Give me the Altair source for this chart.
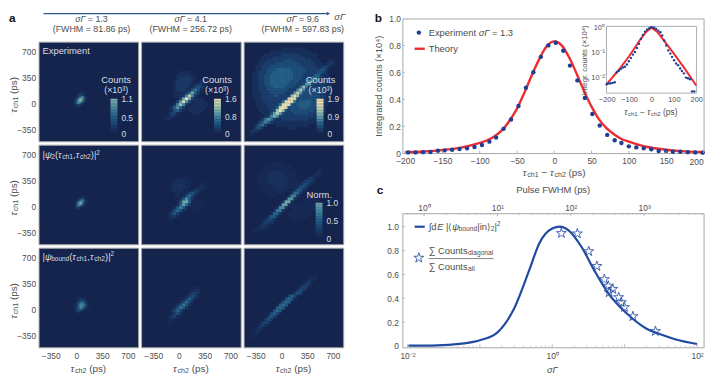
import altair as alt
import pandas as pd

NAVY = "#15244d"
RAMP = ["#15244d", "#1c4473", "#2f6f8f", "#6da3a8", "#b5cdb5", "#e8dcb4", "#f8dcaa"]
FRAME = "#a6a6a6"
TXT = "#4d4d4d"
LIGHT = "#d9dde3"
DOT = "#1f3f95"
RED = "#ee2c30"
LINE = "#1f4aa0"
STAR = "M0,-1L0.224,-0.309L0.951,-0.309L0.363,0.118L0.588,0.809L0,0.382L-0.588,0.809L-0.363,0.118L-0.951,-0.309L-0.224,-0.309Z"

# ---- heat-map cells: (row, first column, hex levels)
P1 = [(25,21,"111"),(26,20,"1221"),(27,19,"13541"),(28,19,"159c61"),(29,18,"14bfc5"),(30,18,"26dfa3"),(31,18,"27b73"),(32,18,"1342"),(33,19,"11")]
P4 = [(26,21,"121"),(27,20,"1352"),(28,19,"148c51"),(29,18,"13bfb4"),(30,18,"15dfa2"),(31,18,"16a62"),(32,18,"1231")]
P7 = [(25,20,"1111"),(26,19,"12332"),(27,19,"136752"),(28,18,"136ab731"),(29,18,"138cca41"),(30,18,"148cb731"),(31,18,"147a631"),(32,18,"13531"),(33,19,"111")]

P2 = [(10,13,"1111"),(11,12,"111111"),(12,12,"1222211"),(13,11,"1222221"),(14,11,"12222211"),(15,11,"1222211"),(16,11,"122211"),(17,11,"11111"),(18,11,"111"),
      (19,18,"111"),(20,17,"11111"),(21,17,"111111"),(22,16,"111111"),(23,16,"11111"),(24,17,"111"),
      (12,21,"11"),(13,20,"121"),(14,18,"1221"),(15,17,"13431"),(16,16,"14641"),(17,15,"25952"),(18,14,"27c72"),(19,13,"39f93"),(20,12,"38e83"),(21,11,"27b72"),(22,10,"25852"),(23,10,"1452"),(24,9,"1331"),(25,9,"121"),(26,8,"11")]
P5 = [(11,11,"111111"),(12,10,"11222111"),(13,10,"1222211"),(14,10,"1222211"),(15,10,"122211"),(16,11,"1111"),(17,11,"11"),
      (19,18,"111"),(20,18,"1111"),(21,17,"1111"),(22,17,"111"),
      (13,20,"11"),(14,19,"121"),(15,17,"1331"),(16,15,"14641"),(17,14,"15951"),(18,13,"27c72"),(19,12,"16ef81"),(20,12,"18e93"),(21,11,"27b72"),(22,10,"16962"),(23,9,"14741"),(24,9,"1331"),(25,9,"11")]
P8 = [(13,18,"11"),(14,17,"122"),(15,16,"1342"),(16,15,"13641"),(17,14,"14851"),(18,13,"25961"),(19,12,"26a72"),(20,11,"26a72"),(21,10,"25851"),(22,10,"1462"),(23,9,"1341"),(24,9,"121"),(25,9,"1")]

HALO3 = ["0000000000000000000000000000000000","0000000000000000000000000000000000",
"0000000000000111111110000000000000","0000000001111111111111100000000000",
"0000000111111222222111111000000000","0000001111222222222221111000000000",
"0000011122222233322222211100000000","0000011222233333333222221110000000",
"0000112223333333333322222111000000","0000112233344444333332222211000000",
"0001122233444444433332222211100000","0001122334444444433322222211100000",
"0001122334444444433322222221100000","0001122334444444333222222222110000",
"0001122334444443332222222222110000","0001122233444433322222222222110000",
"0001122233333332222223333322110000","0001112223333322222233333332110000",
"0001112222332222223333333322110000","0000112222222222233333333322100000",
"0000111222222222333444433322100000","0000111122222222334444433221100000",
"0000011122222222333444333221000000","0000011112222222333333332211000000",
"0000001111222222233333222110000000","0000000111122222222222221100000000",
"0000000011111222222222111000000000","0000000001111111111111110000000000",
"0000000000011111111111000000000000","0000000000000001110000000000000000"]
STREAK3 = [(6,29,"11"),(7,28,"121"),(8,26,"1221"),(9,25,"1331"),(10,24,"2332"),(11,23,"2442"),(12,22,"3553"),(13,21,"3663"),(14,20,"3773"),(15,18,"25952"),(16,17,"26a62"),(17,16,"27b72"),(18,15,"29e92"),(19,14,"3bfb3"),(20,13,"5cfc5"),(21,12,"5cfc4"),(22,11,"4bfb3"),(23,10,"39d93"),(24,9,"37a73"),(25,8,"26862"),(26,6,"25752"),(27,5,"24642"),(28,4,"2452"),(29,3,"1331"),(30,2,"121"),(31,2,"1")]
P3 = [(r, 0, s) for r, s in enumerate(HALO3)] + STREAK3
P6 = [(6,9,"11111"),(7,7,"111111111"),(8,6,"11111111111"),(9,5,"1111222211111"),(10,5,"1112222221111"),(11,5,"1112222222111"),(12,5,"11122222221111"),(13,5,"111122222211111"),(14,6,"1111222211111"),(15,6,"111112211"),(16,7,"1111111"),(17,8,"111"),
      (18,20,"11111"),(19,20,"111111"),(20,17,"111111111"),(21,16,"111111111"),(22,16,"11111111"),(23,15,"11111111"),(24,15,"1111111"),(25,16,"1111"),
      (8,25,"11"),(9,24,"121"),(10,23,"121"),(11,21,"1331"),(12,20,"2442"),(13,19,"2552"),(14,18,"2662"),(15,17,"2772"),(16,16,"2992"),(17,15,"2bb2"),(18,14,"2dd2"),(19,13,"2ff2"),(20,12,"2ee2"),(21,11,"2cc2"),(22,10,"2aa2"),(23,9,"2882"),(24,8,"2772"),(25,7,"2552"),(26,6,"2442"),(27,5,"1331"),(28,4,"1221"),(29,3,"111")]
P9 = [(9,24,"1"),(10,22,"121"),(11,21,"131"),(12,20,"242"),(13,19,"353"),(14,18,"363"),(15,17,"474"),(16,15,"585"),(17,14,"696"),(18,13,"697"),(19,12,"797"),(20,11,"797"),(21,10,"696"),(22,9,"585"),(23,8,"474"),(24,7,"363"),(25,6,"353"),(26,5,"242"),(27,4,"131"),(28,3,"121"),(29,3,"11"),(30,2,"1")]

# ---- panel b
B_EXP_X = [-196,-186,-176,-166,-156,-147,-137,-127,-117,-107,-97,-87,-78,-68,-58,-48,-38,-28,-18,-8,2,12,21,31,41,51,61,71,81,90,100,110,120,130,140,150,159,169,179,189,199]
B_EXP_Y = [0.005,0.005,0.007,0.008,0.017,0.02,0.025,0.03,0.035,0.045,0.06,0.085,0.115,0.18,0.25,0.35,0.485,0.60,0.715,0.80,0.82,0.76,0.65,0.54,0.41,0.29,0.205,0.135,0.095,0.075,0.05,0.042,0.035,0.028,0.015,0.015,0.01,0.01,0.007,0.005,0.003]
B_TH_X = [-200,-175,-150,-125,-100,-90,-80,-70,-60,-50,-40,-30,-20,-10,0,10,20,30,40,50,60,70,80,90,100,125,150,175,200]
B_TH_Y = [0.007,0.012,0.022,0.04,0.075,0.095,0.125,0.17,0.24,0.33,0.45,0.58,0.70,0.795,0.83,0.80,0.71,0.59,0.46,0.345,0.25,0.185,0.14,0.105,0.085,0.045,0.025,0.013,0.008]
IN_EXP_X = [-200,-191,-182,-173,-164,-155,-146,-137,-128,-119,-110,-101,-92,-83,-74,-65,-56,-47,-38,-29,-20,-11,-3,3,12,21,31,40,48,57,66,75,84,92,101,110,119,128,136,145,154,163,172,181,191]
IN_EXP_Y = [.00566,.0060,.0062,.0064,.0068,.0167,.0193,.0224,.0260,.0276,.0342,.0459,.0621,.0837,.106,.152,.224,.351,.503,.678,.811,.914,1.0,1.0,.97,.861,.742,.638,.474,.302,.193,.123,.0916,.0679,.0503,.0373,.0321,.0238,.0188,.0152,.0103,.0097,.0089,.00294,.00294]
IN_TH_X = [-200,-150,-100,-50,-25,0,25,50,100,150,200]
IN_TH_Y = [.00566,.0188,.072,.33,.64,.98,.68,.35,.092,.0224,.005]

# ---- panel c
C_X = [.0103,.0217,.0612,.1026,.172,.289,.484,.661,1,1.27,1.68,2.54,3.84,5.81,10.8,20.1,30.4,51,100]
C_Y = [.003,.004,.022,.05,.11,.30,.64,.86,.985,1.0,.97,.83,.63,.45,.27,.145,.10,.055,.017]
STAR_X = [1.336,2.22,3.19,4.13,5.24,5.93,6.85,6.12,8.26,8.97,9.95,13.0,26.6]
STAR_Y = [.945,.942,.793,.669,.559,.504,.477,.449,.408,.366,.325,.248,.124]
BOT_MAJOR = [.01,.1,1,10,100]
BOT_MINOR = [a*d for d in (.01,.1,1,10) for a in range(2,10)]
TOP_MAJOR = [1,10,100,1000]
TOP_MINOR = [.6,.7,.8,.9] + [a*d for d in (1,10,100) for a in range(2,10)] + [2000,3000,4000,5000,6000]
HEAT_TICKS = [-350,0,350,700]
DOM = [-515, 840]

CHAR_W = {"f": .278, "i": .222, "j": .222, "l": .222, "r": .333, "t": .278, "m": .833, "w": .722, "c": .5, "k": .5, "s": .5, "v": .5, "x": .5, "y": .5, "z": .5,
          "C": .722, "E": .667, "F": .611, "H": .722, "I": .278, "M": .833, "N": .722, "P": .667, "T": .611, "W": .944,
          " ": .278, "(": .333, ")": .333, "|": .26, ",": .278, ".": .278, "=": .584, "−": .584, "∑": .75, "∫": .35, "⟨": .4, "⟩": .4, "τ": .45, "σ": .58, "Γ": .56, "ψ": .68, "×": .584}


def width_of(s, size):
    return sum(CHAR_W.get(ch, .556) for ch in s) * size


def text(s, x, y, size=9, color=TXT, align="left", angle=0, dx=0, dy=0, style=None, weight=None, baseline="middle"):
    kw = dict(align=align, baseline=baseline, fontSize=size, color=color)
    if angle:
        kw["angle"] = angle
    if dx:
        kw["dx"] = dx
    if dy:
        kw["dy"] = dy
    if style:
        kw["fontStyle"] = style
    if weight:
        kw["fontWeight"] = weight
    return alt.Chart(alt.Data(values=[{"t": s}])).mark_text(**kw).encode(text="t:N", x=alt.value(x), y=alt.value(y))


def rich(segs, x, y, color=TXT, center=False, angle=0):
    total = sum(width_of(s[0], s[1]) for s in segs)
    off = -total / 2 if center else 0
    out = []
    for seg in segs:
        s, size = seg[0], seg[1]
        dy = seg[2] if len(seg) > 2 else 0
        style = seg[3] if len(seg) > 3 else None
        lead = len(s) - len(s.lstrip(" "))
        out.append(text(s.strip(" "), x, y, size=size, color=color, angle=angle, dx=off + lead * .278 * size, dy=dy, style=style))
        off += width_of(s, size)
    return out


def tau(n, size=10):
    return [("τ", size, 0, "italic"), ("ch" + n, size * .72, 2)]


MINUS = "replace(format(datum.value,'d'),'-','–')"
ONE = "datum.value==0?'0':format(datum.value,'.1f')"
AX = dict(domain=False, ticks=False, grid=False, labelColor=TXT, labelFontSize=8.5, labelOverlap=False, labelFlush=False)


def colorbar(xleft, ytop, length, vmax, ticks, color_scale):
    n = 24
    step = vmax / n
    sc = alt.Scale(domain=[0, vmax], range=[ytop + length, ytop], nice=False, zero=False)
    df = pd.DataFrame({"v0": [i * step for i in range(n)], "v1": [(i + 1) * step + step * .05 for i in range(n)]})
    bar = alt.Chart(df).mark_rect().encode(
        x=alt.value(xleft), x2=alt.value(xleft + 7),
        y=alt.Y("v0:Q", scale=sc, axis=None, title=None), y2="v1:Q",
        color=alt.Color("v0:Q", scale=color_scale, legend=None))
    tk = pd.DataFrame({"v": ticks, "lab": ["0" if t == 0 else f"{t:.1f}" for t in ticks]})
    lab = alt.Chart(tk).mark_text(align="left", baseline="middle", fontSize=8.5, color=LIGHT).encode(
        x=alt.value(xleft + 11), y=alt.Y("v:Q", scale=sc, axis=None, title=None), text="lab:N")
    return [bar, lab]


def heat(patches, n, vmax=1, legend=None, left=False, bottom=False, extras=()):
    grid = {}
    for r, c, s in patches:
        for i, ch in enumerate(s):
            lv = int(ch, 16)
            if lv:
                grid[(r, c + i)] = max(grid.get((r, c + i), 0), lv)
    step = (DOM[1] - DOM[0]) / n
    rows = [dict(x=DOM[0] + c * step, x2=DOM[0] + (c + 1) * step + 4,
                 y=DOM[1] - r * step, y2=DOM[1] - (r + 1) * step - 4,
                 v=lv / 15 * vmax) for (r, c), lv in sorted(grid.items())]
    df = pd.DataFrame(rows)
    xaxis = alt.Axis(values=HEAT_TICKS, labelExpr=MINUS, labelPadding=4, **AX) if bottom else None
    yaxis = alt.Axis(values=HEAT_TICKS, labelExpr=MINUS, labelPadding=3, **AX) if left else None
    cs = alt.Scale(domain=[0, vmax], range=RAMP)
    rect = alt.Chart(df).mark_rect().encode(
        x=alt.X("x:Q", scale=alt.Scale(domain=DOM, nice=False, zero=False), axis=xaxis, title=None),
        x2="x2:Q",
        y=alt.Y("y:Q", scale=alt.Scale(domain=DOM, nice=False, zero=False), axis=yaxis, title=None),
        y2="y2:Q",
        color=alt.Color("v:Q", scale=cs, legend=None),
    )
    layers = [rect] + list(extras)
    if legend:
        layers += colorbar(legend[0], legend[1], legend[2], vmax, legend[3], cs)
    return alt.layer(*layers).resolve_scale(y="independent").properties(width=101, height=101, view=alt.ViewBackground(fill=NAVY, stroke=FRAME))


def counts(cx):
    return [text("Counts", cx, 39, size=9.5, color=LIGHT, align="center"),
            text("(×10³)", cx, 49, size=9, color=LIGHT, align="center")]


def ylab():
    return rich(tau("1") + [(" (ps)", 10)], -25, 72, angle=270)


def xlab():
    return rich(tau("2") + [(" (ps)", 10)], 50.5, 123.5, center=True)


p1 = heat(P1, 51, 1.1, (73, 58, 36, [0, .5, 1.1]), left=True,
          extras=counts(78.7) + [text("Experiment", 4, 10, size=9.5, color=LIGHT)] + ylab())
p2 = heat(P2, 34, 1.6, (74, 58, 36, [0, .8, 1.6]), extras=counts(77))
p3 = heat(P3, 34, 1.9, (74, 58, 36, [0, .9, 1.9]), extras=counts(78))
p4 = heat(P4, 51, 1, left=True,
          extras=rich([("|", 9.5), ("ψ", 9.5, 0, "italic"), ("2", 6.5, 2), ("(", 9.5)] + tau("1", 9.5) + [(",", 9.5)] + tau("2", 9.5) + [(")|", 9.5), ("2", 6.5, -3)], 4, 11, color=LIGHT) + ylab())
p5 = heat(P5, 34, 1)
p6 = heat(P6, 34, 1.0, (73, 59, 37, [0, .5, 1.0]), extras=[text("Norm.", 76.7, 51, size=9.5, color=LIGHT, align="center")])
p7 = heat(P7, 51, 1, left=True, bottom=True,
          extras=rich([("|", 9.5), ("ψ", 9.5, 0, "italic"), ("bound", 6.5, 2), ("(", 9.5)] + tau("1", 9.5) + [(",", 9.5)] + tau("2", 9.5) + [(")|", 9.5), ("2", 6.5, -3)], 4, 9, color=LIGHT) + ylab() + xlab())
p8 = heat(P8, 34, 1, bottom=True, extras=xlab())
p9 = heat(P9, 34, 1, bottom=True, extras=xlab())

# ---- header strip above panel a
arrow_rule = alt.Chart(alt.Data(values=[{"k": 1}])).mark_rule(color="#2f5a8c", strokeWidth=1.2).encode(
    x=alt.value(5), x2=alt.value(293), y=alt.value(-5))
arrow_head = alt.Chart(alt.Data(values=[{"k": 1}])).mark_point(shape="triangle-right", filled=True, size=14, color="#2f5a8c", opacity=1).encode(
    x=alt.value(294), y=alt.value(-5))
head = [arrow_rule, arrow_head]
head += rich([("σΓ", 9.5, 0, "italic")], 300, -1.5)
for cx_, a, b in [(53.7, " = 1.3", "(FWHM = 81.86 ps)"), (154.3, " = 4.1", "(FWHM = 256.72 ps)"), (268, " = 9.6", "(FWHM = 597.83 ps)")]:
    head += rich([("σΓ", 9, 0, "italic"), (a, 9)], cx_, 1, center=True)
    head.append(text(b, cx_, 11, size=9, align="center"))
head.append(text("a", -30, 3.5, size=12, color="#111111", weight="bold", baseline="alphabetic"))
NOSTROKE = alt.ViewBackground(stroke="transparent")


def filler(w, h, extras=()):
    base = text("", 0, 0)
    return alt.layer(base, *extras).properties(width=w, height=h, view=NOSTROKE)


s0 = filler(101, 19.5, head)
s1 = filler(101, 19.5)
s2 = filler(101, 19.5)

# ---- panel b
W = 305.5
HB = 136.5
df_b = pd.DataFrame({"x": B_EXP_X, "y": B_EXP_Y})
df_t = pd.DataFrame({"x": B_TH_X, "y": B_TH_Y})
bx = alt.Scale(domain=[-203.7, 200.2], nice=False, zero=False)
by = alt.Scale(domain=[0, 1], nice=False)


def X(sc):
    return alt.X("x:Q", scale=sc, axis=None, title=None)


def Y(sc):
    return alt.Y("y:Q", scale=sc, axis=None, title=None)


b_line = alt.Chart(df_t).mark_line(color=RED, strokeWidth=2.4, interpolate="monotone").encode(
    x=alt.X("x:Q", scale=bx, title=None, axis=alt.Axis(values=list(range(-200, 151, 50)), labelExpr=MINUS, labelPadding=4, **AX)),
    y=alt.Y("y:Q", scale=by, title=None, axis=alt.Axis(values=[0, .2, .4, .6, .8, 1], labelExpr=ONE, labelPadding=2, **AX)))
b_pts = alt.Chart(df_b).mark_circle(color=DOT, size=20, opacity=1).encode(x=X(bx), y=Y(by))
b_xt = alt.Chart(pd.DataFrame({"x": list(range(-200, 201, 50))})).mark_rule(color=FRAME, strokeWidth=.8).encode(
    x=X(bx), y=alt.value(HB - 2.5), y2=alt.value(HB))
b_yt = alt.Chart(pd.DataFrame({"y": [.2, .4, .6, .8]})).mark_rule(color=FRAME, strokeWidth=.8).encode(
    y=Y(by), x=alt.value(0), x2=alt.value(2.5))
leg_dot = alt.Chart(alt.Data(values=[{"k": 1}])).mark_circle(color=DOT, size=20, opacity=1).encode(x=alt.value(16.7), y=alt.value(14.3))
leg_line = alt.Chart(alt.Data(values=[{"k": 1}])).mark_rule(color=RED, strokeWidth=2.4).encode(x=alt.value(12.4), x2=alt.value(22.7), y=alt.value(30.7))
b_text = rich([("Experiment ", 9.5), ("σΓ", 9.5, 0, "italic"), (" = 1.3", 9.5)], 26.7, 15) + [text("Theory", 26.7, 30.5, size=9.5)]
b_text += [text("b", -28, 3.5, size=12, color="#111111", weight="bold", baseline="alphabetic")]
b_text += [text("200", W, HB + 9, size=8.5, align="right")]
b_text += rich([("Integrated counts (×10⁴)", 9.5)], -24, 68, angle=270, center=True)
b_text += rich(tau("1") + [(" − ", 10)] + tau("2") + [(" (ps)", 10)], 154, 157, center=True)

ix = alt.Scale(domain=[-201, 201], range=[207, 298.3], nice=False, zero=False)
iy = alt.Scale(type="log", domain=[.00251, 1.094], range=[75.7, 8], nice=False)
IAX = dict(domain=False, ticks=False, grid=False, labelColor=TXT, labelFontSize=7.5, labelOverlap=False, labelFlush=False)
in_frame = alt.Chart(alt.Data(values=[{"x": -201, "x2": 201, "y": .00251, "y2": 1.094}])).mark_rect(fill="white", stroke=FRAME, strokeWidth=.9).encode(
    x=alt.X("x:Q", scale=ix, title=None, axis=alt.Axis(orient="bottom", offset=-60.8, values=[-200, -100, 0, 100, 200], labelExpr=MINUS, labelPadding=3, **IAX)),
    x2="x2:Q",
    y=alt.Y("y:Q", scale=iy, title=None, axis=alt.Axis(orient="left", offset=-207, values=[1, .1, .01], labelExpr="datum.value>0.5?'10⁰':datum.value>0.05?'10⁻¹':'10⁻²'", labelPadding=2, **IAX)),
    y2="y2:Q")
in_line = alt.Chart(pd.DataFrame({"x": IN_TH_X, "y": IN_TH_Y})).mark_line(color=RED, strokeWidth=2).encode(x=X(ix), y=Y(iy))
in_pts = alt.Chart(pd.DataFrame({"x": IN_EXP_X, "y": IN_EXP_Y})).mark_circle(color=DOT, size=6, opacity=1).encode(x=X(ix), y=Y(iy))
in_text = rich([("Integr. counts (×10⁴)", 7.8)], 185.5, 41.7, angle=270, center=True)
in_text += rich(tau("1", 8.5) + [(" − ", 8.5)] + tau("2", 8.5) + [(" (ps)", 8.5)], 252, 95, center=True)

panel_b = alt.layer(b_line, b_pts, b_xt, b_yt, leg_dot, leg_line, *b_text, in_frame, in_line, in_pts, *in_text).resolve_scale(
    x="independent", y="independent").properties(width=W, height=HB, view=alt.ViewBackground(stroke=FRAME))

# ---- panel c
HC = 136
cx = alt.Scale(type="log", domain=[.00851, 123], nice=False)
cy = alt.Scale(domain=[-.0107, 1.113], nice=False, zero=False)
tx = alt.Scale(type="log", domain=[.507, 6457], nice=False)
c_line = alt.Chart(pd.DataFrame({"x": C_X, "y": C_Y})).mark_line(color=LINE, strokeWidth=2.2, interpolate="monotone").encode(
    x=alt.X("x:Q", scale=cx, title=None, axis=alt.Axis(orient="bottom", values=[.01, 1, 100], labelExpr="datum.value<0.1?'10⁻²':datum.value<10?'10⁰':'10²'", labelPadding=4, **AX)),
    y=alt.Y("y:Q", scale=cy, title=None, axis=alt.Axis(values=[0, .2, .4, .6, .8, 1], labelExpr=ONE, labelPadding=4, **AX)))
c_star = alt.Chart(pd.DataFrame({"x": STAR_X, "y": STAR_Y})).mark_point(shape=STAR, filled=False, size=112, color="#2f55a8", strokeWidth=.9, opacity=1).encode(
    x=X(cx), y=Y(cy))
c_bmaj = alt.Chart(pd.DataFrame({"x": BOT_MAJOR})).mark_rule(color=FRAME, strokeWidth=.8).encode(
    x=X(cx), y=alt.value(HC - 3), y2=alt.value(HC))
c_bmin = alt.Chart(pd.DataFrame({"x": BOT_MINOR})).mark_rule(color=FRAME, strokeWidth=.6).encode(
    x=X(cx), y=alt.value(HC - 1.6), y2=alt.value(HC))
c_yt = alt.Chart(pd.DataFrame({"y": [.2, .4, .6, .8, 1]})).mark_rule(color=FRAME, strokeWidth=.8).encode(
    y=Y(cy), x=alt.value(0), x2=alt.value(2.5))
c_leg = alt.Chart(alt.Data(values=[{"k": 1}])).mark_rule(color=LINE, strokeWidth=2.2).encode(x=alt.value(12.4), x2=alt.value(22.7), y=alt.value(13.7))
c_fr = alt.Chart(alt.Data(values=[{"k": 1}])).mark_rule(color=TXT, strokeWidth=.7).encode(x=alt.value(26.7), x2=alt.value(92.4), y=alt.value(46))
c_ls = alt.Chart(alt.Data(values=[{"k": 1}])).mark_point(shape=STAR, filled=False, size=112, color="#2f55a8", strokeWidth=.9, opacity=1).encode(x=alt.value(16.7), y=alt.value(45.3))
c_text = rich([("∫d", 9.5), ("E", 9.5, 0, "italic"), (" |⟨", 9.5), ("ψ", 9.5, 0, "italic"), ("bound", 6.8, 2), ("|in⟩", 9.5), ("2", 6.8, 2), ("|", 9.5), ("2", 6.8, -3)], 26.7, 14)
c_text += rich([("∑ Counts", 9.5), ("diagonal", 6.8, 2)], 26.7, 38.7)
c_text += rich([("∑ Counts", 9.5), ("all", 6.8, 2)], 26.7, 55)
c_text += [text("Pulse FWHM (ps)", 153, -24, size=9.5, align="center"),
           text("c", -26, -19, size=12, color="#111111", weight="bold", baseline="alphabetic")]
c_text += rich([("σΓ", 9.5, 0, "italic")], 152, 159, center=True)
t_maj = alt.Chart(pd.DataFrame({"x": TOP_MAJOR})).mark_rule(color=FRAME, strokeWidth=.8).encode(
    x=alt.X("x:Q", scale=tx, title=None, axis=alt.Axis(orient="top", values=TOP_MAJOR, labelExpr="datum.value<5?'10⁰':datum.value<50?'10¹':datum.value<500?'10²':'10³'", labelPadding=1, **AX)),
    y=alt.value(0), y2=alt.value(3))
t_min = alt.Chart(pd.DataFrame({"x": TOP_MINOR})).mark_rule(color=FRAME, strokeWidth=.6).encode(
    x=X(tx), y=alt.value(0), y2=alt.value(1.6))
panel_c = alt.layer(c_line, c_star, c_bmaj, c_bmin, c_yt, c_leg, c_fr, c_ls, *c_text, t_maj, t_min).resolve_scale(
    x="independent", y="independent").properties(width=W, height=HC, view=alt.ViewBackground(stroke=FRAME))

# ---- assembly: two grids of leaf views side by side
left = alt.concat(s0, s1, s2, p1, p2, p3, p4, p5, p6, p7, p8, p9, columns=3,
                  spacing={"row": 3.5, "column": 3}, bounds="flush")
right = alt.vconcat(panel_b, panel_c, spacing=60.5, bounds="flush")
chart = alt.hconcat(left, right, spacing=27, bounds="full").properties(padding=0).configure(
    font="Liberation Sans", background="white")
chart.save("out.html", embed_options={"renderer": "svg", "actions": False})
